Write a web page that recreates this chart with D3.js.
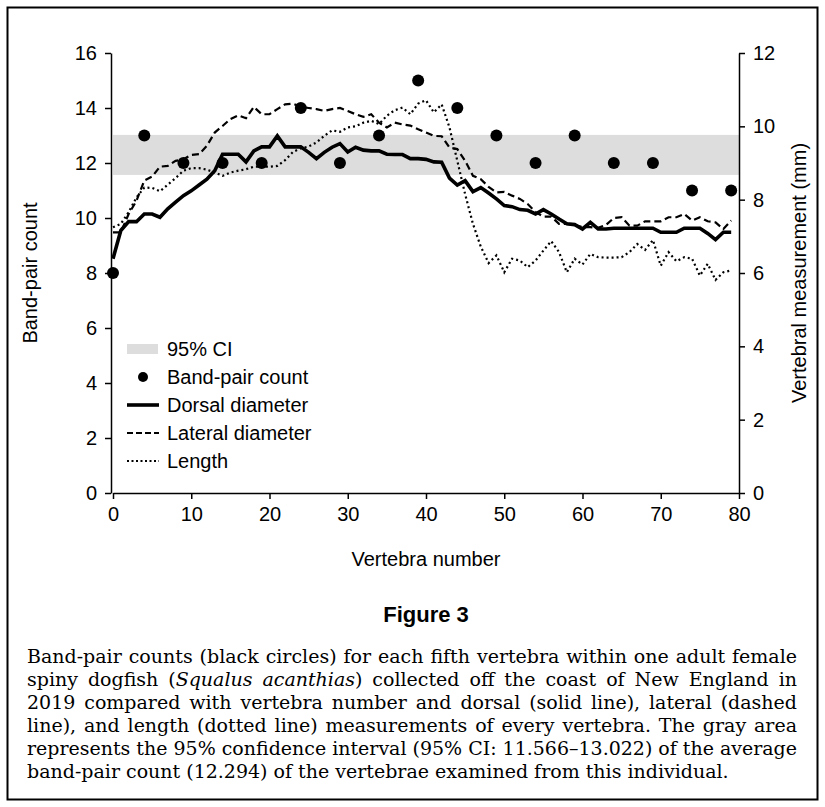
<!DOCTYPE html>
<html lang="en">
<head>
<meta charset="UTF-8"/>
<title>Figure 3</title>
<script src="https://d3js.org/d3.v7.min.js"></script>
<style>
    body { margin: 0; background: #fff; }
    .axis text { font-family: "Liberation Sans", Arial, sans-serif; font-size: 20px; fill: #000; }
    .axis path, .axis line { stroke: #000; stroke-width: 1.5px; }
    .lbl { font-family: "Liberation Sans", Arial, sans-serif; font-size: 20px; }
    .cap { font-family: "DejaVu Serif", serif; font-size: 19px; }
</style>
</head>
<body>
<svg id="fig" width="825" height="807"></svg>
<script>
// band-pair counts, read every fifth vertebra
var countVertebra = [0, 4, 9, 14, 19, 24, 29, 34, 39, 44, 49, 54, 59, 64, 69, 74, 79];
var bandPairs = [8, 13, 12, 12, 12, 14, 12, 13, 15, 14, 13, 12, 13, 12, 12, 11, 11];

// 95% CI of the mean band-pair count
var ciLow = 11.566, ciHigh = 13.022;

// vertebral measurements (mm), vertebra 0..79
var dorsal = [6.39, 7.16, 7.40, 7.40, 7.61, 7.61, 7.52, 7.75, 7.93, 8.11,
    8.24, 8.40, 8.56, 8.79, 9.24, 9.24, 9.24, 9.03, 9.33, 9.44,
    9.44, 9.74, 9.44, 9.44, 9.44, 9.29, 9.12, 9.29, 9.43, 9.53,
    9.30, 9.43, 9.35, 9.33, 9.33, 9.24, 9.23, 9.23, 9.12, 9.12,
    9.10, 9.03, 9.02, 8.59, 8.40, 8.52, 8.22, 8.33, 8.18, 8.02,
    7.84, 7.81, 7.73, 7.71, 7.61, 7.73, 7.61, 7.47, 7.34, 7.32,
    7.20, 7.38, 7.20, 7.20, 7.22, 7.22, 7.22, 7.22, 7.22, 7.22,
    7.11, 7.11, 7.11, 7.22, 7.22, 7.22, 7.08, 6.91, 7.11, 7.11];

var lateral = [7.11, 7.11, 7.61, 7.97, 8.52, 8.63, 8.90, 8.92, 9.06, 9.10,
    9.22, 9.24, 9.47, 9.83, 10.01, 10.20, 10.30, 10.22, 10.53, 10.33,
    10.33, 10.47, 10.60, 10.62, 10.53, 10.50, 10.47, 10.42, 10.47, 10.50,
    10.42, 10.33, 10.26, 10.33, 10.10, 9.97, 10.10, 10.05, 10.02, 9.92,
    9.83, 9.74, 9.73, 9.42, 9.38, 9.06, 8.65, 8.56, 8.35, 8.20,
    8.21, 8.11, 8.02, 7.88, 7.66, 7.54, 7.54, 7.34, 7.34, 7.31,
    7.25, 7.25, 7.23, 7.31, 7.50, 7.52, 7.29, 7.29, 7.41, 7.41,
    7.41, 7.52, 7.52, 7.61, 7.43, 7.52, 7.41, 7.38, 7.20, 7.43];

var length = [7.25, 7.34, 7.66, 8.06, 8.33, 8.32, 8.23, 8.41, 8.59, 8.79,
    8.86, 8.86, 8.82, 8.74, 8.65, 8.74, 8.79, 8.83, 8.90, 8.90,
    8.90, 8.92, 9.08, 9.30, 9.40, 9.45, 9.56, 9.74, 9.89, 9.85,
    9.97, 10.00, 10.10, 10.15, 10.06, 10.29, 10.44, 10.51, 10.33, 10.62,
    10.71, 10.38, 10.60, 9.97, 9.06, 8.15, 7.34, 6.72, 6.27, 6.48,
    6.02, 6.39, 6.34, 6.16, 6.34, 6.61, 6.87, 6.57, 6.02, 6.39,
    6.23, 6.52, 6.43, 6.42, 6.42, 6.43, 6.57, 6.79, 6.63, 6.90,
    6.20, 6.57, 6.32, 6.43, 6.39, 5.93, 6.25, 5.81, 6.02, 6.07];

var xTicks = [0, 10, 20, 30, 40, 50, 60, 70, 80];
var leftTicks = [0, 2, 4, 6, 8, 10, 12, 14, 16];
var rightTicks = [0, 2, 4, 6, 8, 10, 12];

var legendItems = ["95% CI", "Band-pair count", "Dorsal diameter", "Lateral diameter", "Length"];

var svg = d3.select("#fig");

// outer frame
svg.append("rect")
    .attr("x", 7.5).attr("y", 7.5)
    .attr("width", 810).attr("height", 792)
    .attr("fill", "none").attr("stroke", "#000").attr("stroke-width", 2);

var x = d3.scaleLinear().domain([0, 80]).range([113, 739]);
var yL = d3.scaleLinear().domain([0, 16]).range([493, 53]);
var yR = d3.scaleLinear().domain([0, 12]).range([493, 53]);

// CI band
svg.append("rect")
    .attr("x", x(0))
    .attr("y", yL(ciHigh))
    .attr("width", x(80) - x(0))
    .attr("height", yL(ciLow) - yL(ciHigh))
    .attr("fill", "#dddddd");

// axes
svg.append("g").attr("class", "axis")
    .attr("transform", "translate(0," + yL(0) + ")")
    .call(d3.axisBottom(x).tickValues(xTicks).tickSize(6).tickSizeOuter(0).tickPadding(8));

svg.append("g").attr("class", "axis")
    .attr("transform", "translate(" + (x(0) - 2) + ",0)")
    .call(d3.axisLeft(yL).tickValues(leftTicks).tickSize(6).tickSizeOuter(0).tickPadding(8));

svg.append("g").attr("class", "axis")
    .attr("transform", "translate(" + x(80) + ",0)")
    .call(d3.axisRight(yR).tickValues(rightTicks).tickSize(6).tickSizeOuter(0).tickPadding(8));

// measurement lines
var line = function (arr) {
    return d3.line()
        .x(function (d, i) { return x(i); })
        .y(function (d) { return yR(d); })(arr);
};

svg.append("path").attr("d", line(length))
    .attr("fill", "none").attr("stroke", "#000")
    .attr("stroke-width", 2.2).attr("stroke-dasharray", "2,3");

svg.append("path").attr("d", line(lateral))
    .attr("fill", "none").attr("stroke", "#000")
    .attr("stroke-width", 2.2).attr("stroke-dasharray", "7,4");

svg.append("path").attr("d", line(dorsal))
    .attr("fill", "none").attr("stroke", "#000")
    .attr("stroke-width", 3.6).attr("stroke-linejoin", "miter");

// band-pair dots
svg.selectAll("circle.bp")
    .data(bandPairs)
    .enter().append("circle")
    .attr("class", "bp")
    .attr("cx", function (d, i) { return x(countVertebra[i]); })
    .attr("cy", function (d) { return yL(d); })
    .attr("r", 6)
    .attr("fill", "#000");

// legend
var lg = svg.append("g").attr("transform", "translate(127,349)");
legendItems.forEach(function (name, i) {
    var g = lg.append("g").attr("transform", "translate(0," + (i * 28) + ")");
    if (i === 0) {
        g.append("rect").attr("x", 0).attr("y", -5).attr("width", 31).attr("height", 10).attr("fill", "#dddddd");
    } else if (i === 1) {
        g.append("circle").attr("cx", 16).attr("cy", 0).attr("r", 5).attr("fill", "#000");
    } else {
        var ln = g.append("line").attr("x1", 0).attr("x2", 32).attr("y1", 0).attr("y2", 0).attr("stroke", "#000");
        if (i === 2) ln.attr("stroke-width", 3.6);
        if (i === 3) ln.attr("stroke-width", 2).attr("stroke-dasharray", "6,3");
        if (i === 4) ln.attr("stroke-width", 2).attr("stroke-dasharray", "2,2.5");
    }
    g.append("text").attr("class", "lbl")
        .attr("x", 40).attr("y", 0).attr("dy", "0.35em")
        .text(name);
});

// axis titles
svg.append("text").attr("class", "lbl")
    .attr("text-anchor", "middle")
    .attr("x", (x(0) + x(80)) / 2).attr("y", 566)
    .text("Vertebra number");

svg.append("text").attr("class", "lbl")
    .attr("text-anchor", "middle")
    .attr("transform", "translate(37," + yL(8) + ")rotate(-90)")
    .text("Band-pair count");

svg.append("text").attr("class", "lbl")
    .attr("text-anchor", "middle")
    .attr("transform", "translate(806," + yR(6) + ")rotate(-90)")
    .text("Vertebral measurement (mm)");

// figure title
svg.append("text")
    .attr("text-anchor", "middle")
    .attr("x", 426).attr("y", 622)
    .style("font-family", "'Liberation Sans', Arial, sans-serif")
    .style("font-weight", "bold")
    .style("font-size", "22px")
    .text("Figure 3");

// caption, justified line by line
var captionLines = [
    [["Band-pair counts (black circles) for each fifth vertebra within one adult female", false]],
    [["spiny dogfish (", false], ["Squalus acanthias", true], [") collected off the coast of New England in", false]],
    [["2019 compared with vertebra number and dorsal (solid line), lateral (dashed", false]],
    [["line), and length (dotted line) measurements of every vertebra. The gray area", false]],
    [["represents the 95% confidence interval (95% CI: 11.566\u201313.022) of the average", false]],
    [["band-pair count (12.294) of the vertebrae examined from this individual.", false]]
];
var capLeft = 27, capRight = 797;
captionLines.forEach(function (parts, i) {
    var t = svg.append("text").attr("class", "cap")
        .attr("x", capLeft).attr("y", 663 + i * 23);
    parts.forEach(function (p) {
        t.append("tspan").style("font-style", p[1] ? "italic" : "normal").text(p[0]);
    });
    var w = t.node().getComputedTextLength();
    if (w > capRight - capLeft) {
        t.attr("textLength", capRight - capLeft).attr("lengthAdjust", "spacingAndGlyphs");
    } else if (i < captionLines.length - 1) {
        var spaces = parts.map(function (p) { return p[0]; }).join("").split(" ").length - 1;
        t.style("word-spacing", ((capRight - capLeft - w) / spaces) + "px");
    }
});
</script>
</body>
</html>
